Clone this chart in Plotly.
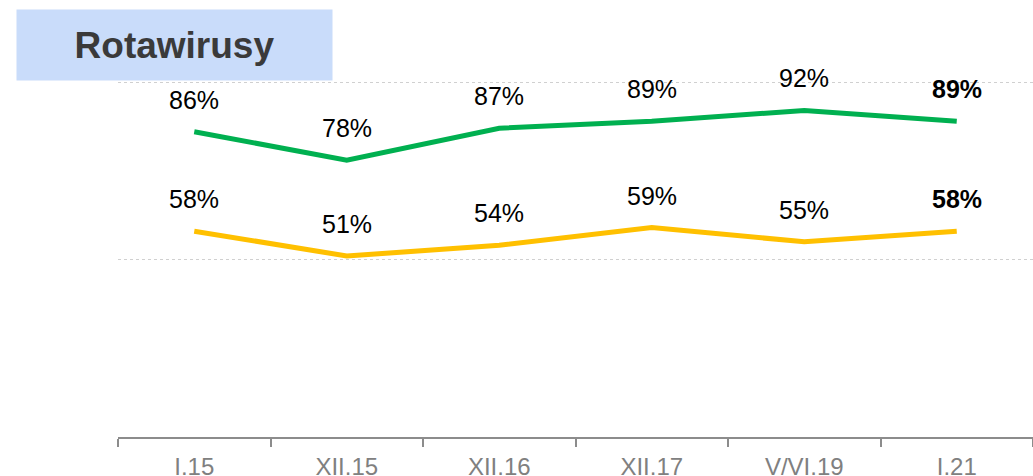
import plotly.graph_objects as go

categories = ["I.15", "XII.15", "XII.16", "XII.17", "V/VI.19", "I.21"]
green_values = [86, 78, 87, 89, 92, 89]
yellow_values = [58, 51, 54, 59, 55, 58]
title_text = "Rotawirusy"

GREEN = "#00b050"
YELLOW = "#ffc000"
FONT = "Liberation Sans, Arial, sans-serif"

W, H = 1033, 476
ML, MR, MT, MB = 118, 0, 75, 39
YMAX = 102
plot_h = H - MT - MB
plot_w = W - ML - MR

fig = go.Figure()
for vals, col in [(green_values, GREEN), (yellow_values, YELLOW)]:
    fig.add_trace(go.Scatter(
        x=categories, y=vals, mode="lines",
        line=dict(color=col, width=5),
        hoverinfo="skip", showlegend=False, cliponaxis=False,
    ))

annotations = []
for vals in (green_values, yellow_values):
    for i, (c, v) in enumerate(zip(categories, vals)):
        last = i == len(categories) - 1
        annotations.append(dict(
            x=c, y=v, xref="x", yref="y", text=f"{v}%",
            showarrow=False, yanchor="middle", xanchor="center", yshift=32,
            font=dict(family=FONT, size=25, color="#000000",
                      weight="bold" if last else "normal"),
        ))

def px_x(px):
    return (px - ML) / plot_w

def px_y(py):
    return (H - MB - py) / plot_h

annotations.append(dict(
    xref="paper", yref="paper", x=px_x(16), y=px_y(9),
    xanchor="left", yanchor="top", width=315, height=70,
    bgcolor="#c9dcfa", borderpad=0, showarrow=False,
    text=f"<b>{title_text}</b>",
    font=dict(family=FONT, size=37, color="#3a3a3a"),
))

fig.update_layout(
    width=W, height=H,
    margin=dict(l=ML, r=MR, t=MT, b=MB),
    paper_bgcolor="white", plot_bgcolor="white",
    annotations=annotations,
    xaxis=dict(
        type="category", range=[-0.5, 5.5], tickson="boundaries",
        showline=True, linecolor="#8c8c8c", linewidth=1.5,
        ticks="outside", ticklen=8, tickcolor="#8c8c8c", tickwidth=1.5,
        ticklabelstandoff=7,
        showgrid=False, zeroline=False, automargin=False,
        tickfont=dict(family=FONT, size=24, color="#808080"),
        fixedrange=True,
    ),
    yaxis=dict(
        range=[0, YMAX], tickvals=[50, 100], showticklabels=False,
        showgrid=True, gridcolor="#d0d0d0", griddash="dot", gridwidth=1,
        zeroline=False, showline=False, fixedrange=True,
    ),
)

fig.write_html("out.html", config={"displayModeBar": False},
               post_script="document.body.style.margin='0px';")
